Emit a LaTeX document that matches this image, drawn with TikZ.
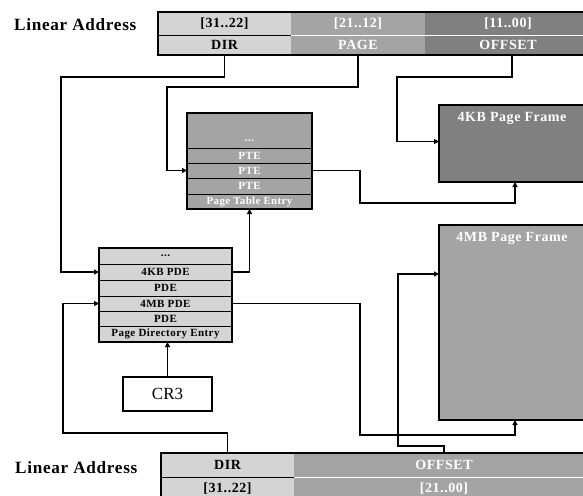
\documentclass[tikz,border=0pt]{standalone}
\usepackage{fontspec}
\setmainfont{Liberation Serif}
\newfontfamily\lsfont[LetterSpace=4]{Liberation Serif}
\usetikzlibrary{arrows.meta}
\definecolor{lightc}{RGB}{212,212,212}
\definecolor{medc}{RGB}{164,164,164}
\definecolor{darkc}{RGB}{128,128,128}
\begin{document}
\begin{tikzpicture}[x=1pt,y=-1pt,
  cell/.style={anchor=north west, inner sep=0pt, outer sep=0pt},
  bartxt/.style={font=\lsfont\bfseries\fontsize{14}{14}\selectfont},
  tabtxt/.style={font=\lsfont\bfseries\fontsize{11}{11}\selectfont},
  frametxt/.style={font=\lsfont\bfseries\fontsize{14}{14}\selectfont, text=white},
  rowline/.style={draw=black, line width=0.9pt},
  arr/.style={line width=1.2pt, -{Triangle[length=5pt,width=5pt]}},
  conn/.style={line width=1.2pt}]
\useasboundingbox (0,0) rectangle (583,495);

% labels
\node[font=\lsfont\bfseries\fontsize{17.2}{17.2}\selectfont, anchor=west, inner sep=0pt] (la1) at (14,25) {Linear Address};
\node[font=\lsfont\bfseries\fontsize{17.2}{17.2}\selectfont, anchor=west, inner sep=0pt] (la2) at (15,468) {Linear Address};

% top bar
\node[cell, fill=lightc, minimum width=133pt, minimum height=23pt, bartxt] (a1) at (158,12) {[31..22]};
\node[cell, fill=lightc, minimum width=133pt, minimum height=20pt, bartxt] (a2) at (158,35) {DIR};
\node[cell, fill=medc, minimum width=134pt, minimum height=23pt, bartxt, text=white] (b1) at (291,12) {[21..12]};
\node[cell, fill=medc, minimum width=134pt, minimum height=20pt, bartxt, text=white] (b2) at (291,35) {PAGE};
\node[cell, fill=darkc, minimum width=166pt, minimum height=23pt, bartxt, text=white] (c1) at (425,12) {[11..00]};
\node[cell, fill=darkc, minimum width=166pt, minimum height=20pt, bartxt, text=white] (c2) at (425,35) {OFFSET};
\draw[black, line width=0.9pt] (a1.south west) -- (a1.south east);
\draw[white, line width=0.9pt] (b1.south west) -- (c1.south east);
\draw[line width=1.5pt] (a1.north west) rectangle (c2.south east);

% bottom bar
\node[cell, fill=lightc, minimum width=133pt, minimum height=24pt, bartxt] (d1) at (161,453) {DIR};
\node[cell, fill=lightc, minimum width=133pt, minimum height=24pt, bartxt] (d2) at (161,477) {[31..22]};
\node[cell, fill=medc, minimum width=300pt, minimum height=24pt, bartxt, text=white] (e1) at (294,453) {OFFSET};
\node[cell, fill=medc, minimum width=300pt, minimum height=24pt, bartxt, text=white] (e2) at (294,477) {[21..00]};
\draw[black, line width=0.9pt] (d1.south west) -- (d1.south east);
\draw[white, line width=0.9pt] (e1.south west) -- (e1.south east);
\draw[line width=1.5pt] (d1.north west) rectangle (e2.south east);

% page table
\node[cell, fill=medc, minimum width=125pt, minimum height=35pt] (pte1) at (187,113) {};
\node[tabtxt, text=white, inner sep=0pt] (pte1t) at (249.5,141) {...};
\node[cell, fill=medc, minimum width=125pt, minimum height=15pt, tabtxt, text=white] (pte2) at (187,148) {PTE};
\node[cell, fill=medc, minimum width=125pt, minimum height=15pt, tabtxt, text=white] (pte3) at (187,163) {PTE};
\node[cell, fill=medc, minimum width=125pt, minimum height=16pt, tabtxt, text=white] (pte4) at (187,178) {PTE};
\node[cell, fill=medc, minimum width=125pt, minimum height=15pt, text=white, font=\lsfont\bfseries\fontsize{10.8}{10.8}\selectfont] (pte5) at (187,194) {Page Table Entry};
\foreach \r in {pte1,pte2,pte3,pte4} \draw[rowline] (\r.south west) -- (\r.south east);
\draw[line width=1.2pt] (pte1.north west) rectangle (pte5.south east);

% page directory
\node[cell, fill=lightc, minimum width=133pt, minimum height=16pt, tabtxt] (pde1) at (99,248) {...};
\node[cell, fill=lightc, minimum width=133pt, minimum height=16pt, tabtxt] (pde2) at (99,264) {4KB PDE};
\node[cell, fill=lightc, minimum width=133pt, minimum height=16pt, tabtxt] (pde3) at (99,280) {PDE};
\node[cell, fill=lightc, minimum width=133pt, minimum height=15pt, tabtxt] (pde4) at (99,296) {4MB PDE};
\node[cell, fill=lightc, minimum width=133pt, minimum height=15pt, tabtxt] (pde5) at (99,311) {PDE};
\node[cell, fill=lightc, minimum width=133pt, minimum height=16pt, tabtxt] (pde6) at (99,326) {Page Directory Entry};
\foreach \r in {pde1,pde2,pde3,pde4,pde5} \draw[rowline] (\r.south west) -- (\r.south east);
\draw[line width=1.2pt] (pde1.north west) rectangle (pde6.south east);

% CR3
\node[cell, draw, line width=1.2pt, minimum width=89pt, minimum height=34pt, font=\fontsize{17}{17}\selectfont] (cr3) at (123,377) {CR3};

% page frames
\node[cell, fill=darkc, draw, line width=1.5pt, minimum width=152pt, minimum height=77pt] (kb) at (439,105) {};
\node[frametxt] (kbt) at (512,118) {4KB Page Frame};
\node[cell, fill=medc, draw, line width=1.5pt, minimum width=152pt, minimum height=195pt] (mb) at (439,225) {};
\node[frametxt] (mbt) at (512,238) {4MB Page Frame};

% connectors
\draw[arr] (a2.south) -- ++(0,22) -| ([xshift=-38pt]pde2.west) -- (pde2.west);
\draw[arr] (b2.south) -- ++(0,32) -| ([xshift=-20pt]pte3.west) -- (pte3.west);
\draw[arr] ([xshift=4pt]c2.south) -- ++(0,22) -| ([xshift=-42pt,yshift=2pt]kb.west) -- ([yshift=2pt]kb.west);
\coordinate (j1) at (360,203);
\draw[arr] (pte3.east) -| (j1) -| (kb.south);
\draw[arr] (pde2.east) -| (pte5.south);
\draw[arr] (cr3.north) -- (cr3.north |- pde6.south);
\draw[arr] (d1.north) -- ++(0,-20) -| ([xshift=-36pt]pde4.west) -- (pde4.west);
\coordinate (j2) at (360,435);
\draw[arr] (pde4.east) -| (j2) -| (mb.south);
\draw[arr] (e1.north) -- ++(0,-7) -| ([xshift=-41pt,yshift=48.5pt]mb.west) -- ([yshift=48.5pt]mb.west);
\end{tikzpicture}
\end{document}
